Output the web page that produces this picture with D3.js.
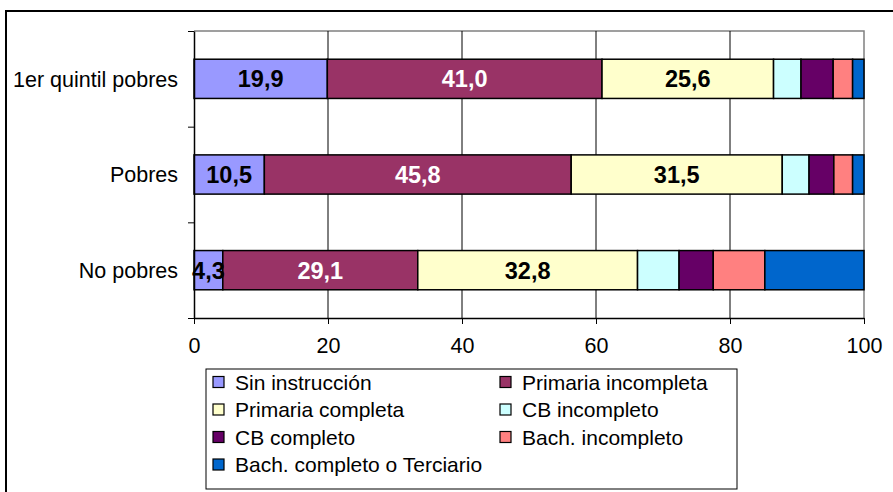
<!DOCTYPE html>
<html><head><meta charset="utf-8">
<script src="https://cdn.jsdelivr.net/npm/d3@7"></script>
<style>body{margin:0;background:#fff;} svg{display:block;} text{font-family:"Liberation Sans",Arial,sans-serif;}</style>
</head><body>
<script>
const categories = ["1er quintil pobres", "Pobres", "No pobres"];
const seriesNames = ["Sin instrucción", "Primaria incompleta", "Primaria completa", "CB incompleto", "CB completo", "Bach. incompleto", "Bach. completo o Terciario"];
const sinInstruccion = [19.9, 10.5, 4.3];
const primariaIncompleta = [41.0, 45.8, 29.1];
const primariaCompleta = [25.6, 31.5, 32.8];
const cbIncompleto = [4.1, 4.0, 6.2];
const cbCompleto = [4.8, 3.7, 5.1];
const bachIncompleto = [2.9, 2.8, 7.7];
const bachCompleto = [1.7, 1.7, 14.8];
const xTicks = [0, 20, 40, 60, 80, 100];
const colors = ["#9999FF", "#993366", "#FFFFCC", "#CCFFFF", "#660066", "#FF8080", "#0066CC"];
const labelColors = ["#000", "#fff", "#000"];
const labeledSeries = 3;

const seriesValues = [sinInstruccion, primariaIncompleta, primariaCompleta, cbIncompleto, cbCompleto, bachIncompleto, bachCompleto];

const W = 893, H = 492;
const svg = d3.select("body").append("svg").attr("width", W).attr("height", H);

// outer frame
svg.append("rect").attr("x", 6).attr("y", 11).attr("width", W).attr("height", H)
  .attr("fill", "none").attr("stroke", "#000").attr("stroke-width", 2);

const x = d3.scaleLinear().domain([0, 100]).range([194, 864]);
const y = d3.scaleBand().domain(categories).range([31, 318]).paddingInner(0.59).paddingOuter(0.295);

// plot frame (gray top/right)
svg.append("path").attr("d", `M${x(0)},31H${x(100)}V318`).attr("fill", "none").attr("stroke", "#808080").attr("stroke-width", 1.5);

// gridlines
svg.append("g").selectAll("line").data(xTicks.filter(t => t > 0 && t < 100)).join("line")
  .attr("x1", d => x(d)).attr("x2", d => x(d)).attr("y1", 31).attr("y2", 318)
  .attr("stroke", "#000").attr("stroke-width", 1);

// stacked data
const rows = categories.map((c, i) => {
  const o = {cat: c};
  seriesNames.forEach((s, j) => o[s] = seriesValues[j][i]);
  return o;
});
const stack = d3.stack().keys(seriesNames)(rows);

const g = svg.append("g");
stack.forEach((layer, j) => {
  g.selectAll(null).data(layer).join("rect")
    .attr("x", d => x(d[0])).attr("width", d => x(d[1]) - x(d[0]))
    .attr("y", d => y(d.data.cat)).attr("height", y.bandwidth())
    .attr("fill", colors[j]).attr("stroke", "#000").attr("stroke-width", 1.5);
});
stack.slice(0, labeledSeries).forEach((layer, j) => {
  g.selectAll(null).data(layer).join("text")
    .attr("x", d => (x(d[0]) + x(d[1])) / 2)
    .attr("y", d => y(d.data.cat) + y.bandwidth() / 2)
    .attr("dy", "0.36em").attr("text-anchor", "middle")
    .attr("font-size", 23.5).attr("font-weight", "bold").attr("fill", labelColors[j])
    .text(d => d3.format(".1f")(d[1] - d[0]).replace(".", ","));
});

// axes
const xAxis = d3.axisBottom(x).tickValues(xTicks).tickSize(6).tickPadding(14).tickSizeOuter(0);
const ax = svg.append("g").attr("transform", "translate(0,318)").call(xAxis);
ax.select(".domain").attr("stroke", "#000").attr("stroke-width", 1.5);
ax.selectAll("text").attr("font-size", 21.5).attr("font-family", "Liberation Sans, Arial, sans-serif").attr("fill", "#000");

const yAxis = d3.axisLeft(d3.scaleLinear().domain([0, 3]).range([318, 31])).ticks(3).tickSize(6).tickFormat("").tickSizeOuter(0);
const ay = svg.append("g").attr("transform", `translate(${x(0)},0)`).call(yAxis);
ay.select(".domain").attr("stroke", "#000").attr("stroke-width", 1.5);

svg.append("g").selectAll("text").data(categories).join("text")
  .attr("x", 178).attr("y", d => y(d) + y.bandwidth() / 2).attr("dy", "0.36em")
  .attr("text-anchor", "end").attr("font-size", 21.5).text(d => d);

// legend
const lg = svg.append("g");
lg.append("rect").attr("x", 206).attr("y", 369).attr("width", 531).attr("height", 120)
  .attr("fill", "#fff").attr("stroke", "#000").attr("stroke-width", 1);
const legendItems = seriesNames.map((s, i) => ({name: s, color: colors[i], col: i % 2, row: Math.floor(i / 2)}));
const li = lg.selectAll("g").data(legendItems).join("g")
  .attr("transform", d => `translate(${d.col ? 500 : 213},${382 + d.row * 27.5})`);
li.append("rect").attr("x", 0).attr("y", -5.5).attr("width", 11).attr("height", 11)
  .attr("fill", d => d.color).attr("stroke", "#000").attr("stroke-width", 1.2);
li.append("text").attr("x", 22).attr("dy", "0.36em").attr("font-size", 21).text(d => d.name);
</script>
</body></html>
